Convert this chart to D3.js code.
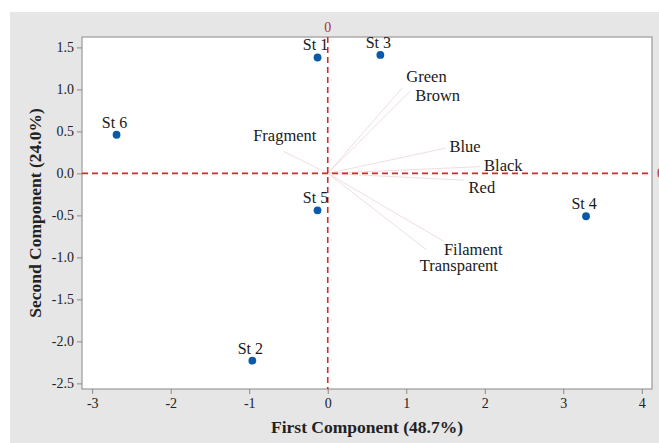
<!DOCTYPE html>
<html>
<head>
<meta charset="utf-8">
<script src="https://cdn.jsdelivr.net/npm/d3@7/dist/d3.min.js"></script>
<style>
  html, body { margin: 0; padding: 0; background: #fff; }
  svg { display: block; font-family: "Liberation Serif", "Times New Roman", serif; }
</style>
</head>
<body>
<div id="chart"></div>
<script>
// scores (samples)
const stations = ['St 1', 'St 2', 'St 3', 'St 4', 'St 5', 'St 6'];
const pc1 = [-0.13, -0.96, 0.67, 3.29, -0.13, -2.69];
const pc2 = [1.38, -2.23, 1.41, -0.51, -0.44, 0.46];

// loadings (vectors from origin)
const variables = ['Green', 'Brown', 'Blue', 'Black', 'Red', 'Filament', 'Transparent', 'Fragment'];
const load1 = [0.95, 1.05, 1.50, 1.94, 1.73, 1.48, 1.26, -0.56];
const load2 = [1.02, 0.98, 0.30, 0.08, -0.08, -0.81, -0.91, 0.26];

const xTicks = [-3, -2, -1, 0, 1, 2, 3, 4];
const yTicks = [-2.5, -2.0, -1.5, -1.0, -0.5, 0.0, 0.5, 1.0, 1.5];

// label placement for loading names (px offsets from vector tip)
const loadLabelPos = [
  [4, -5.5, 'start'], [5, 9.5, 'start'], [4, 4, 'start'], [4, 4, 'start'],
  [5, 12.5, 'start'], [0, 14, 'start'], [-7, 21, 'start'], [1, -10.5, 'middle']
];

const W = 659, H = 443;
const plot = { left: 82, top: 37, right: 652, bottom: 389 };

const svg = d3.select('#chart').append('svg')
  .attr('width', W).attr('height', H);

svg.append('rect')
  .attr('x', 10).attr('y', 12).attr('width', W - 10).attr('height', H - 12)
  .attr('fill', '#e6e6e6');

svg.append('rect')
  .attr('x', plot.left).attr('y', plot.top)
  .attr('width', plot.right - plot.left).attr('height', plot.bottom - plot.top)
  .attr('fill', '#fff').attr('stroke', '#9a9a9a').attr('stroke-width', 1.2);

const x = d3.scaleLinear().domain([-3.13, 4.13]).range([plot.left, plot.right]);
const y = d3.scaleLinear().domain([-2.567, 1.624]).range([plot.bottom, plot.top]);

// axes (hyphen minus like the original)
const xAxis = svg.append('g')
  .attr('transform', `translate(0,${plot.bottom})`)
  .call(d3.axisBottom(x).tickValues(xTicks).tickSize(5).tickPadding(4).tickFormat(d => String(d)));
const yAxis = svg.append('g')
  .attr('transform', `translate(${plot.left},0)`)
  .call(d3.axisLeft(y).tickValues(yTicks).tickSize(5).tickPadding(3).tickFormat(d => d.toFixed(1)));

[xAxis, yAxis].forEach(a => {
  a.attr('font-family', null).attr('font-size', null);
  a.select('.domain').remove();
  a.selectAll('.tick line').attr('stroke', '#8a8a8a');
  a.selectAll('.tick text')
    .attr('fill', '#222')
    .style('font-family', '"Liberation Serif", serif')
    .style('font-size', '14px');
});

// axis titles
svg.append('text')
  .attr('x', 367).attr('y', 433)
  .attr('text-anchor', 'middle')
  .style('font-weight', 'bold').style('font-size', '17.5px')
  .attr('fill', '#222')
  .text('First Component (48.7%)');

svg.append('text')
  .attr('transform', 'translate(41,213) rotate(-90)')
  .attr('text-anchor', 'middle')
  .style('font-weight', 'bold').style('font-size', '17.5px')
  .attr('fill', '#222')
  .text('Second Component (24.0%)');

// loading vectors
const loads = variables.map((v, i) => ({ name: v, a: load1[i], b: load2[i], pos: loadLabelPos[i] }));
svg.append('g').selectAll('line').data(loads).join('line')
  .attr('x1', x(0)).attr('y1', y(0))
  .attr('x2', d => x(d.a)).attr('y2', d => y(d.b))
  .attr('stroke', '#f1dede').attr('stroke-width', 1);

// reference lines
const refColor = '#d42a2a';
svg.append('line')
  .attr('x1', x(0)).attr('x2', x(0)).attr('y1', plot.top).attr('y2', plot.bottom)
  .attr('stroke', refColor).attr('stroke-width', 1.6).attr('stroke-dasharray', '6,4');
svg.append('line')
  .attr('x1', plot.left).attr('x2', plot.right).attr('y1', y(0)).attr('y2', y(0))
  .attr('stroke', refColor).attr('stroke-width', 1.6).attr('stroke-dasharray', '6,4');

svg.append('text')
  .attr('x', x(0)).attr('y', 32)
  .attr('text-anchor', 'middle')
  .attr('fill', '#b03030').style('font-size', '14px')
  .text('0');
svg.append('text')
  .attr('x', plot.right + 5).attr('y', y(0) + 5)
  .attr('fill', '#b03030').style('font-size', '14px')
  .text('0');

// loading labels
svg.append('g').selectAll('text').data(loads).join('text')
  .attr('x', d => x(d.a) + d.pos[0])
  .attr('y', d => y(d.b) + d.pos[1])
  .attr('text-anchor', d => d.pos[2])
  .attr('fill', '#1a1a1a')
  .style('font-size', '16.5px')
  .text(d => d.name);

// score points
const scores = stations.map((s, i) => ({ name: s, a: pc1[i], b: pc2[i] }));
svg.append('g').selectAll('circle').data(scores).join('circle')
  .attr('cx', d => x(d.a)).attr('cy', d => y(d.b))
  .attr('r', 3.9)
  .attr('fill', '#0b5aa8');

svg.append('g').selectAll('text').data(scores).join('text')
  .attr('x', d => x(d.a) - 2)
  .attr('y', d => y(d.b) - 7)
  .attr('text-anchor', 'middle')
  .attr('fill', '#1a1a1a')
  .style('font-size', '16px')
  .text(d => d.name);
</script>
</body>
</html>
